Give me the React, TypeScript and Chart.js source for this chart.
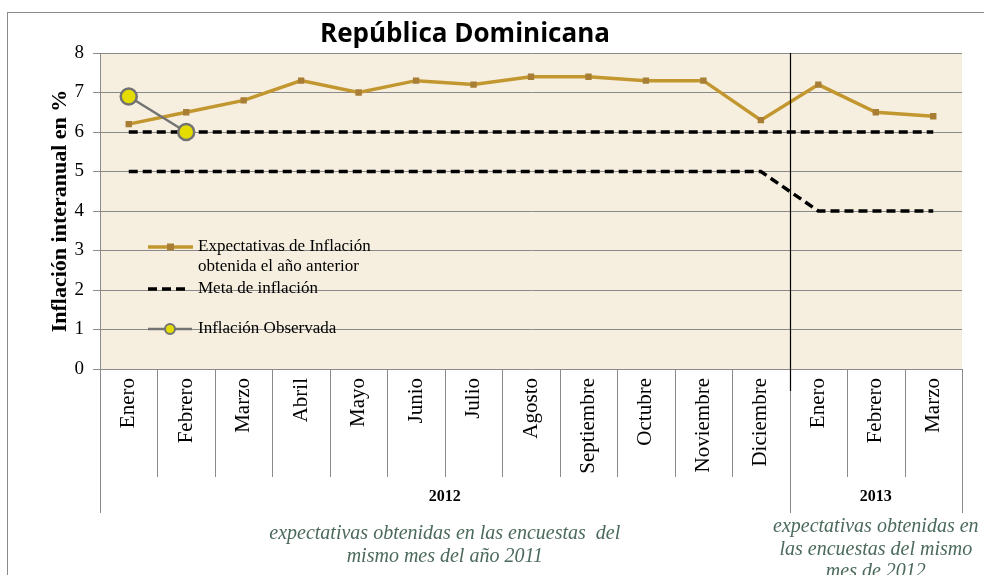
import React, { useEffect, useRef } from "react";
import { Chart, registerables } from "chart.js";

Chart.register(...registerables);

const TITLE = "República Dominicana";
const Y_TITLE = "Inflación interanual en %";
const CATEGORIES = [
  "Enero", "Febrero", "Marzo", "Abril", "Mayo", "Junio", "Julio", "Agosto",
  "Septiembre", "Octubre", "Noviembre", "Diciembre", "Enero", "Febrero", "Marzo",
];
const EXPECTATIVAS = [6.2, 6.5, 6.8, 7.3, 7.0, 7.3, 7.2, 7.4, 7.4, 7.3, 7.3, 6.3, 7.2, 6.5, 6.4];
const META_SUPERIOR = [6, 6, 6, 6, 6, 6, 6, 6, 6, 6, 6, 6, 6, 6, 6];
const META_INFERIOR = [5, 5, 5, 5, 5, 5, 5, 5, 5, 5, 5, 5, 4, 4, 4];
const OBSERVADA = [6.9, 6.0, null, null, null, null, null, null, null, null, null, null, null, null, null];
const YEARS = ["2012", "2013"];
const YEAR_COUNTS = [12, 3];
const NOTE_2012 = ["expectativas obtenidas en las encuestas  del", "mismo mes del año 2011"];
const NOTE_2013 = ["expectativas obtenidas en", "las encuestas del mismo", "mes de 2012"];
const LEGEND_EXP = ["Expectativas de Inflación", "obtenida el año anterior"];
const LEGEND_META = "Meta de inflación";
const LEGEND_OBS = "Inflación Observada";

const SERIF = "'Liberation Serif', serif";
const BG = "#F6EFDF";
const GOLD = "#C3972F";
const GOLD_MARK = "#A87E36";
const GRID = "#8a8a8a";
const NOTE_COLOR = "#4B6A5B";
const YELLOW = "#E4DC00";
const OBS_GRAY = "#737373";

const decor = {
  id: "decor",
  beforeDraw(chart: any) {
    const { ctx, chartArea: a } = chart;
    ctx.save();
    ctx.fillStyle = "#ffffff";
    ctx.fillRect(0, 0, chart.width, chart.height);
    ctx.strokeStyle = GRID;
    ctx.lineWidth = 1;
    ctx.strokeRect(7.5, 12.5, 1200, 800);
    ctx.fillStyle = BG;
    ctx.fillRect(a.left, a.top, a.right - a.left, a.bottom - a.top);
    ctx.restore();
  },
  afterDraw(chart: any) {
    const { ctx, chartArea: a } = chart;
    const xs = chart.scales.x;
    const step = xs.getPixelForValue(1) - xs.getPixelForValue(0);
    const b0 = xs.getPixelForValue(0) - step / 2;
    const bx = (i: number) => Math.round(b0 + i * step) + 0.5;
    ctx.save();
    const groupEdges = [0];
    YEAR_COUNTS.forEach((c, i) => groupEdges.push(groupEdges[i] + c));
    ctx.strokeStyle = GRID;
    ctx.lineWidth = 1;
    for (let i = 0; i <= CATEGORIES.length; i++) {
      const isGroup = groupEdges.includes(i);
      ctx.beginPath();
      ctx.moveTo(bx(i), a.bottom);
      ctx.lineTo(bx(i), isGroup ? a.bottom + 144 : a.bottom + 108);
      ctx.stroke();
    }
    const sep = bx(groupEdges[1]);
    ctx.strokeStyle = "#000";
    ctx.lineWidth = 1.2;
    ctx.beginPath();
    ctx.moveTo(sep, a.top);
    ctx.lineTo(sep, a.bottom + 22);
    ctx.stroke();
    ctx.fillStyle = "#000";
    ctx.font = `bold 16px ${SERIF}`;
    ctx.textAlign = "center";
    ctx.textBaseline = "middle";
    const centers: number[] = [];
    YEARS.forEach((y, i) => {
      const cx = (b0 + groupEdges[i] * step + b0 + groupEdges[i + 1] * step) / 2;
      centers.push(cx);
      ctx.fillText(y, cx, a.bottom + 128);
    });
    ctx.fillStyle = NOTE_COLOR;
    ctx.font = `italic 20px ${SERIF}`;
    NOTE_2012.forEach((t, i) => ctx.fillText(t, centers[0], a.bottom + 165 + i * 23));
    NOTE_2013.forEach((t, i) => ctx.fillText(t, centers[1], a.bottom + 158 + i * 22.5));
    ctx.fillStyle = "#000";
    ctx.font = `bold 26px 'Open Sans', sans-serif`;
    ctx.fillText(TITLE, 465, 35);
    const lx = a.left + 48;
    ctx.textAlign = "left";
    ctx.font = `17px ${SERIF}`;
    ctx.fillStyle = "#000";
    ctx.strokeStyle = GOLD;
    ctx.lineWidth = 3.5;
    ctx.beginPath();
    ctx.moveTo(lx, 247);
    ctx.lineTo(lx + 45, 247);
    ctx.stroke();
    ctx.fillStyle = GOLD_MARK;
    ctx.fillRect(lx + 19, 243.5, 7, 7);
    ctx.fillStyle = "#000";
    ctx.fillText(LEGEND_EXP[0], lx + 50, 247);
    ctx.fillText(LEGEND_EXP[1], lx + 50, 267);
    ctx.strokeStyle = "#000";
    ctx.setLineDash([9, 5]);
    ctx.beginPath();
    ctx.moveTo(lx, 289);
    ctx.lineTo(lx + 42, 289);
    ctx.stroke();
    ctx.setLineDash([]);
    ctx.fillText(LEGEND_META, lx + 50, 289);
    ctx.strokeStyle = OBS_GRAY;
    ctx.lineWidth = 2.5;
    ctx.beginPath();
    ctx.moveTo(lx, 329);
    ctx.lineTo(lx + 44, 329);
    ctx.stroke();
    ctx.beginPath();
    ctx.arc(lx + 22, 329, 5, 0, Math.PI * 2);
    ctx.fillStyle = YELLOW;
    ctx.fill();
    ctx.lineWidth = 2;
    ctx.stroke();
    ctx.fillStyle = "#000";
    ctx.fillText(LEGEND_OBS, lx + 50, 329);
    ctx.restore();
  },
};

export default function App() {
  const ref = useRef<HTMLCanvasElement>(null);
  useEffect(() => {
    if (!ref.current) return;
    const chart = new Chart(ref.current, {
      type: "line",
      data: {
        labels: CATEGORIES,
        datasets: [
          {
            label: LEGEND_OBS,
            data: OBSERVADA,
            borderColor: OBS_GRAY,
            borderWidth: 2.5,
            pointRadius: 8,
            pointBackgroundColor: YELLOW,
            pointBorderColor: OBS_GRAY,
            pointBorderWidth: 2.5,
            spanGaps: false,
          },
          {
            label: LEGEND_EXP.join(" "),
            data: EXPECTATIVAS,
            borderColor: GOLD,
            borderWidth: 3.5,
            pointStyle: "rect",
            pointRadius: 4.5,
            pointBackgroundColor: GOLD_MARK,
            pointBorderColor: GOLD_MARK,
            pointBorderWidth: 0,
          },
          {
            label: LEGEND_META,
            data: META_SUPERIOR,
            borderColor: "#000",
            borderWidth: 3.5,
            borderDash: [9, 5],
            pointRadius: 0,
          },
          {
            label: LEGEND_META + " inferior",
            data: META_INFERIOR,
            borderColor: "#000",
            borderWidth: 3.5,
            borderDash: [9, 5],
            pointRadius: 0,
          },
        ] as any,
      },
      options: {
        animation: false,
        responsive: false,
        devicePixelRatio: 1,
        layout: { padding: { top: 53, right: 22, bottom: 0, left: 0 } },
        plugins: { legend: { display: false }, tooltip: { enabled: false }, title: { display: false } },
        scales: {
          x: {
            type: "category",
            offset: true,
            grid: { display: false },
            border: { display: false },
            ticks: {
              autoSkip: false,
              minRotation: 90,
              maxRotation: 90,
              padding: 1,
              color: "#000",
              font: { family: SERIF, size: 21 },
            },
            afterFit: (s: any) => { s.height = 206; },
          },
          y: {
            min: 0,
            max: 8,
            ticks: { stepSize: 1, padding: 9, color: "#000", font: { family: SERIF, size: 19 } },
            grid: { color: GRID, tickLength: 7, lineWidth: 1 },
            border: { display: true, color: GRID },
            title: {
              display: true,
              text: Y_TITLE,
              color: "#000",
              font: { family: SERIF, size: 22, weight: "bold" },
              padding: { top: 47, bottom: 0 },
            },
            afterFit: (s: any) => { s.width = 100; },
          },
        },
      } as any,
      plugins: [decor],
    });
    return () => chart.destroy();
  }, []);
  return (
    <div style={{ position: "fixed", left: 0, top: 0, width: 984, height: 575 }}>
      <canvas ref={ref} width={984} height={575} />
    </div>
  );
}
